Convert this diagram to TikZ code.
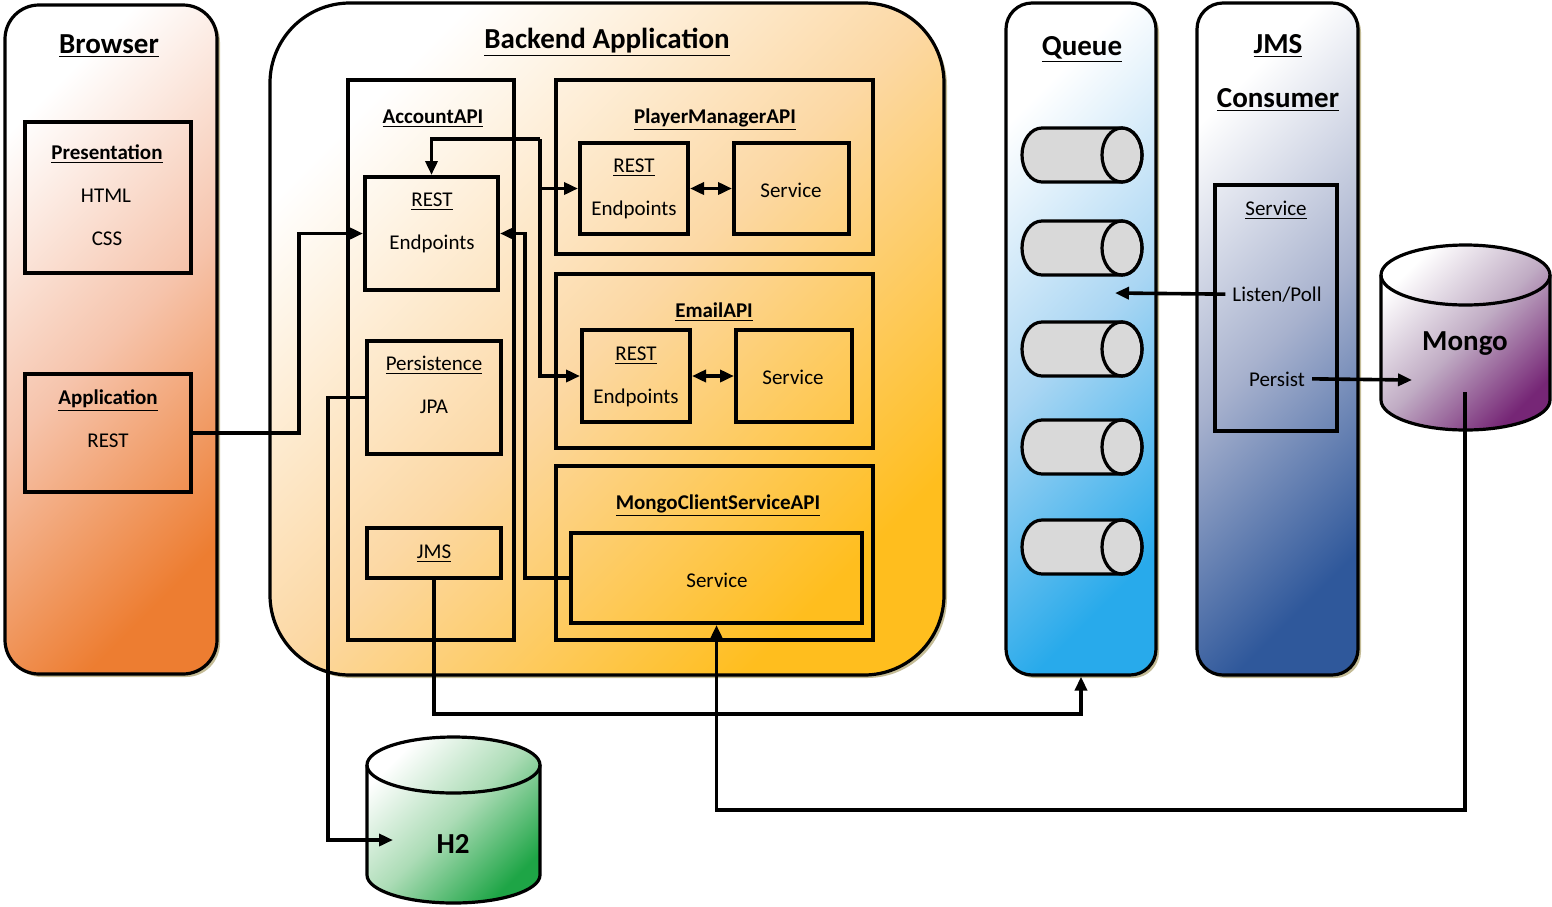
\documentclass[tikz,border=0pt]{standalone}
\usepackage{fontspec}
\setmainfont{Carlito}
\usetikzlibrary{fit,shadows,arrows.meta}

\definecolor{browserorange}{RGB}{237,125,49}
\definecolor{browserpink}{RGB}{246,196,172}
\definecolor{backendgold}{RGB}{255,190,30}
\definecolor{backendpeach}{RGB}{252,216,164}
\definecolor{queueblue}{RGB}{40,170,235}
\definecolor{queuelight}{RGB}{170,214,243}
\definecolor{consumerblue}{RGB}{47,88,155}
\definecolor{consumermid}{RGB}{168,178,206}
\definecolor{mongopurple}{RGB}{118,38,118}
\definecolor{mongomid}{RGB}{192,172,196}
\definecolor{hgreen}{RGB}{30,165,70}
\definecolor{hmid}{RGB}{172,220,182}
\definecolor{qgray}{RGB}{217,217,217}
\definecolor{shadowtan}{RGB}{196,188,150}

\tikzstyle{tier} = [rectangle, draw, line width=1.6pt, inner sep=0pt, drop shadow={shadow xshift=1.5pt, shadow yshift=-1.5pt, fill=shadowtan, opacity=1}]
\tikzstyle{apibox} = [rectangle, draw, line width=1.6pt, inner sep=0pt]
\tikzstyle{box} = [rectangle, draw, line width=2pt, inner sep=0pt]
\tikzstyle{cyl} = [draw, line width=1.6pt, line join=round]
\tikzstyle{lbl} = [font=\fontsize{10.5}{12}\selectfont, anchor=base]
\tikzstyle{ttl} = [font=\fontsize{10.5}{12}\selectfont\bfseries, anchor=base]
\tikzstyle{head} = [font=\fontsize{14.5}{17}\selectfont\bfseries, anchor=base]
\tikzstyle{wire} = [draw, line width=1.8pt, ->]
\tikzset{grad/.style 2 args={top color=white, bottom color=#1, middle color=#2, shading angle=45}}

\begin{document}
\begin{tikzpicture}[x=0.5pt,y=-0.5pt,>={Triangle[length=7pt,width=6pt]}]
  \useasboundingbox (0,0) rectangle (1552,906);

  % tiers
  \node[tier, rounded corners=17pt, grad={browserorange}{browserpink}, fit={(5,5) (217,674)}] (browser) {};
  \node[tier, rounded corners=40pt, grad={backendgold}{backendpeach}, fit={(270,3) (944,675)}] (backend) {};
  \node[tier, rounded corners=13pt, grad={queueblue}{queuelight}, fit={(1006,3) (1156,675)}] (queue) {};
  \node[tier, rounded corners=13pt, grad={consumerblue}{consumermid}, fit={(1197,3) (1358,675)}] (consumer) {};

  % browser
  \node[box, fit={(25,122) (191,273)}] (pres) {};
  \node[box, fit={(25,374) (191,492)}] (app) {};
  \node[head] (tBrowser) at (109,53) {\underline{Browser}};
  \node[ttl] (tPres) at (107,159) {\underline{Presentation}};
  \node[lbl] (tHtml) at (106,202) {HTML};
  \node[lbl] (tCss) at (107,245) {CSS};
  \node[ttl] (tApp) at (108,404) {\underline{Application}};
  \node[lbl] (tAppRest) at (108,447) {REST};

  % backend
  \node[head] (tBackend) at (607,48) {\underline{Backend Application}};
  \node[apibox, fit={(348,80) (514,640)}] (account) {};
  \node[box, fit={(365,177) (498,290)}] (accrest) {};
  \node[box, fit={(367,341) (501,454)}] (pers) {};
  \node[box, fit={(367,528) (501,578)}] (jms) {};
  \node[ttl] (tAccount) at (433,123) {\underline{AccountAPI}};
  \node[lbl] (tAccRest) at (432,206) {\underline{REST}};
  \node[lbl] (tAccEnd) at (432,249) {Endpoints};
  \node[lbl] (tPers) at (434,370) {\underline{Persistence}};
  \node[lbl] (tJpa) at (434,413) {JPA};
  \node[lbl] (tJms) at (434,558) {\underline{JMS}};

  \node[apibox, fit={(556,80) (873,254)}] (player) {};
  \node[box, fit={(580,143) (688,234)}] (pmrest) {};
  \node[box, fit={(734,143) (849,234)}] (pmsvc) {};
  \node[ttl] (tPlayer) at (715,123) {\underline{PlayerManagerAPI}};
  \node[lbl] (tPmRest) at (634,172) {\underline{REST}};
  \node[lbl] (tPmEnd) at (634,215) {Endpoints};
  \node[lbl] (tPmSvc) at (791,197) {Service};

  \node[apibox, fit={(556,274) (873,448)}] (email) {};
  \node[box, fit={(582,330) (690,422)}] (emrest) {};
  \node[box, fit={(736,330) (852,422)}] (emsvc) {};
  \node[ttl] (tEmail) at (714,317) {\underline{EmailAPI}};
  \node[lbl] (tEmRest) at (636,360) {\underline{REST}};
  \node[lbl] (tEmEnd) at (636,403) {Endpoints};
  \node[lbl] (tEmSvc) at (793,384) {Service};

  \node[apibox, fit={(556,466) (873,640)}] (mongoapi) {};
  \node[box, fit={(571,533) (862,623)}] (mcsvc) {};
  \node[ttl] (tMongoApi) at (718,509) {\underline{MongoClientServiceAPI}};
  \node[lbl] (tMcSvc) at (717,587) {Service};

  % queue
  \node[head] (tQueue) at (1082,55) {\underline{Queue}};
  \foreach \y in {155,248,349,447,547} {
    \path[cyl, fill=qgray] (1042,\y-27) -- (1122,\y-27)
      arc[start angle=90, end angle=-90, x radius=10pt, y radius=13.5pt]
      -- (1042,\y+27)
      arc[start angle=270, end angle=90, x radius=10pt, y radius=13.5pt] -- cycle;
    \draw[cyl] (1122,\y) ellipse[x radius=10pt, y radius=13.5pt];
  }

  % consumer
  \node[head] (tJmsC) at (1278,53) {\underline{JMS}};
  \node[head] (tConsumer) at (1278,107) {\underline{Consumer}};
  \node[box, fit={(1215,185) (1337,431)}] (cssvc) {};
  \node[lbl] (tCsSvc) at (1276,215) {\underline{Service}};
  \node[lbl] (tListen) at (1277,301) {Listen/Poll};
  \node[lbl] (tPersist) at (1277,386) {Persist};

  % databases
  \path[cyl, grad={mongopurple}{mongomid}] (1381,275) -- (1381,400)
    arc[start angle=180, end angle=360, x radius=42.25pt, y radius=15pt]
    -- (1550,275)
    arc[start angle=0, end angle=180, x radius=42.25pt, y radius=15pt] -- cycle;
  \draw[cyl] (1381,275) arc[start angle=180, end angle=360, x radius=42.25pt, y radius=15pt];
  \node[head] (tMongo) at (1465,350) {Mongo};

  \path[cyl, grad={hgreen}{hmid}] (367,765) -- (367,875)
    arc[start angle=180, end angle=360, x radius=43.25pt, y radius=14pt]
    -- (540,765)
    arc[start angle=0, end angle=180, x radius=43.25pt, y radius=14pt] -- cycle;
  \draw[cyl] (367,765) arc[start angle=180, end angle=360, x radius=43.25pt, y radius=14pt];
  \node[head] (tH2) at (453,853) {H2};

  \coordinate (split) at (540,139);
  \coordinate (h2in) at (393,840);
  \coordinate (qin) at (1115,293);
  \coordinate (mongoin) at (1412,380);
  \coordinate (mongoout) at (1465,392);

  % connectors
  \draw[wire] (app.east) -- ++(106,0) |- (accrest.west);
  \draw[wire] (split) -| (accrest.north);
  \draw[wire] (split) |- (pmrest.west);
  \draw[wire] (split) |- (emrest.west);
  \draw[wire] (mcsvc.west) -- ++(-44,0) |- (accrest.east);
  \draw[wire] (pers.west) -- ++(-37,0) |- (h2in);
  \draw[wire] (jms.south) -- ++(0,134) -| (queue.south);
  \draw[wire] (mongoout) -- ++(0,418) -| (mcsvc.south);
  \draw[wire] (tListen.west) -- (qin);
  \draw[wire] (tPersist.east) -- (mongoin);
  \draw[wire,<->] (pmrest.east) -- (pmsvc.west);
  \draw[wire,<->] (emrest.east) -- (emsvc.west);
\end{tikzpicture}
\end{document}
